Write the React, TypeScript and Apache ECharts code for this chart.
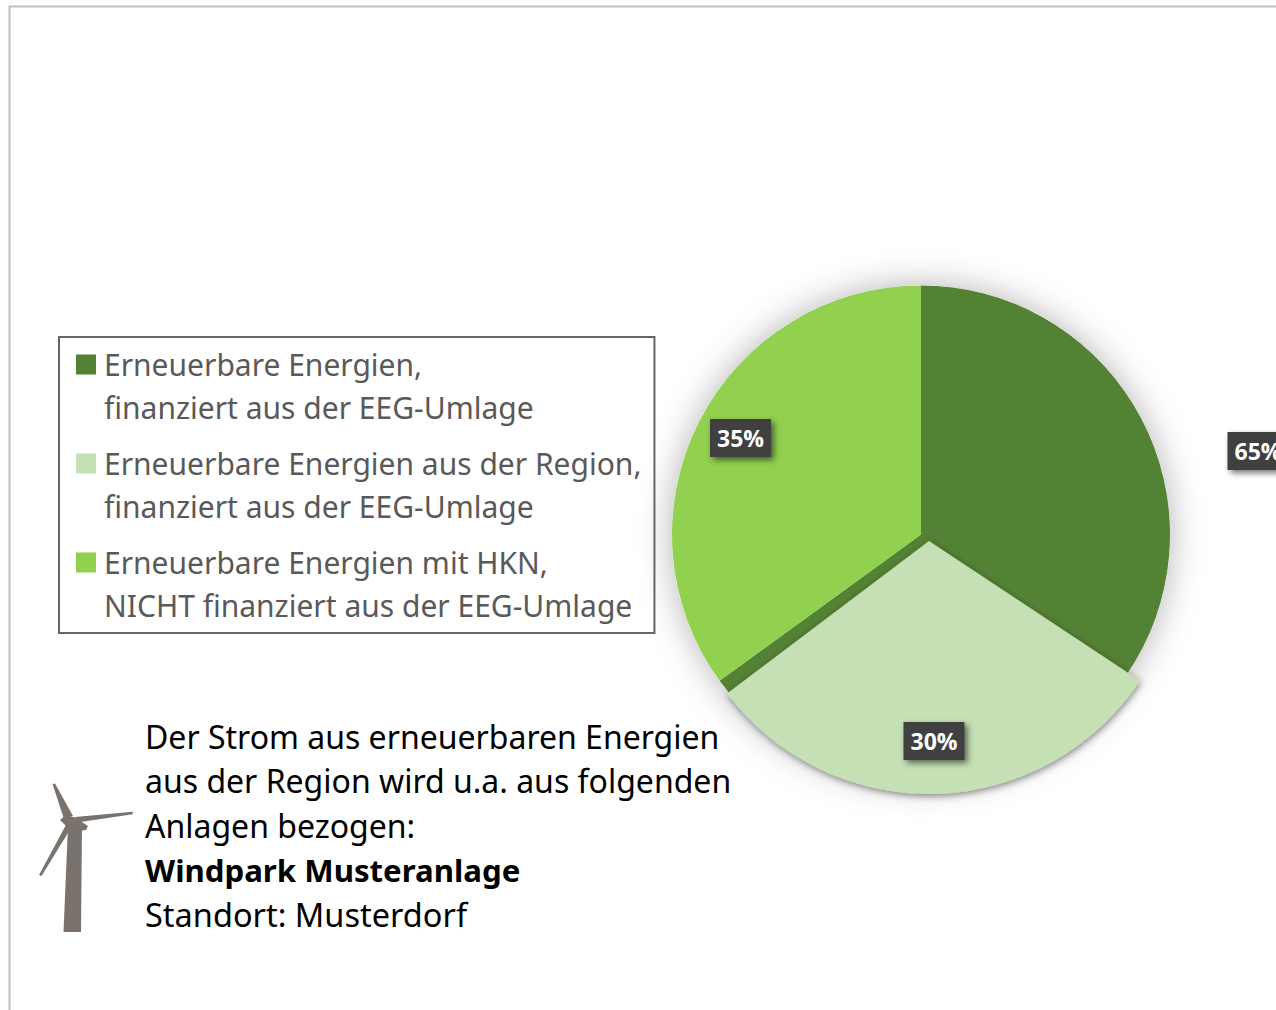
import React, { useEffect, useRef } from "react";
import * as echarts from "echarts";

const legendNames = [
  "Erneuerbare Energien,\nfinanziert aus der EEG-Umlage",
  "Erneuerbare Energien aus der Region,\nfinanziert aus der EEG-Umlage",
  "Erneuerbare Energien mit HKN,\nNICHT finanziert aus der EEG-Umlage",
];
const colors = ["#548235", "#C5E0B4", "#92D050"];
const baseValues = [65, 35];
const regionValue = 30.4;
const regionRestBefore = 35;
const regionRestAfter = 34.6;
const noteLines = [
  "Der Strom aus erneuerbaren Energien",
  "aus der Region wird u.a. aus folgenden",
  "Anlagen bezogen:",
  "Windpark Musteranlage",
  "Standort: Musterdorf",
];
const noteSizes = [32, 32, 32, 31.2, 32.5];
const boldLine = 3;

const FONT = '"Noto Sans", "Open Sans", sans-serif';
const R = 249;
const labelStyle = {
  show: true,
  position: "inside",
  formatter: (p: any) => `${Math.round(p.value)}%`,
  color: "#fff",
  fontFamily: "Open Sans",
  fontWeight: "bold",
  fontSize: 23,
  lineHeight: 26,
  backgroundColor: "#404040",
  padding: [6, 7, 6, 7],
  shadowColor: "rgba(0,0,0,0.55)",
  shadowBlur: 6,
  shadowOffsetX: 3,
  shadowOffsetY: 3,
};
const legendIcon = "path://M0 0L0 0ZM0 11.5H20V31.5H0ZM23 86L23 86Z";

export default function App() {
  const ref = useRef<HTMLDivElement>(null);
  useEffect(() => {
    const chart = echarts.init(ref.current!, null, { renderer: "svg" });
    const noScale = { scale: false };
    chart.setOption({
      animation: false,
      backgroundColor: "#fff",
      legend: {
        orient: "vertical",
        left: 59,
        top: 337,
        data: legendNames,
        selectedMode: false,
        icon: legendIcon,
        itemWidth: 23,
        itemHeight: 86,
        itemGap: 13,
        padding: [6, 13, 6, 17],
        borderColor: "#666",
        borderWidth: 2,
        textStyle: { fontFamily: FONT, fontSize: 30, color: "#595959", lineHeight: 43 },
      },
      graphic: [
        {
          type: "rect",
          silent: true,
          z: -1,
          shape: { x: 9.5, y: 6.5, width: 1400, height: 1200 },
          style: { fill: "none", stroke: "#bfbfbf", lineWidth: 2 },
        },
        ...noteLines.map((t, i) => ({
          type: "text",
          silent: true,
          x: 145,
          y: 736.3 + i * 44.6,
          style: {
            text: t,
            fill: "#000",
            font: `${i === boldLine ? "bold " : ""}${noteSizes[i]}px ${FONT}`,
            verticalAlign: "middle",
          },
        })),
        {
          type: "group",
          silent: true,
          children: [
            [[68, 826], [63.5, 932], [81, 932], [82, 826]],
            [[60, 820], [64, 816.5], [74, 817], [88, 826], [86, 830], [78, 831], [66, 826]],
            [[52.5, 784], [55, 783.5], [73, 816], [64, 819]],
            [[75, 817], [132.7, 811.7], [132.7, 814.3], [77, 822.5]],
            [[66.5, 824], [71, 828], [41.5, 876], [39, 875]],
          ].map((points) => ({
            type: "polygon",
            shape: { points },
            style: { fill: "#7A726C" },
          })),
        },
      ],
      series: [
        {
          type: "pie",
          name: "shadow",
          silent: true,
          center: [921, 534.5],
          radius: [0, R],
          label: { show: false },
          labelLine: { show: false },
          data: [
            {
              value: baseValues[0] + baseValues[1],
              name: "",
              itemStyle: {
                color: "#fff",
                shadowColor: "rgba(0,0,0,0.3)",
                shadowBlur: 34,
              },
            },
          ],
        },
        {
          type: "pie",
          name: "Anteil",
          silent: true,
          center: [921, 534.5],
          radius: [0, R],
          startAngle: 90,
          labelLine: { show: false },
          emphasis: noScale,
          label: labelStyle,
          labelLayout: (p: any) =>
            p.dataIndex === 0 ? { x: 1258, y: 451 } : { x: 740.5, y: 438 },
          data: [
            { value: baseValues[0], name: legendNames[0], itemStyle: { color: colors[0] } },
            { value: baseValues[1], name: legendNames[2], itemStyle: { color: colors[2] } },
          ],
        },
        {
          type: "pie",
          name: "Region",
          silent: true,
          center: [929, 541],
          radius: [0, 253],
          startAngle: 92.5,
          z: 3,
          labelLine: { show: false },
          emphasis: noScale,
          label: { show: false },
          labelLayout: { x: 934, y: 741 },
          data: [
            { value: regionRestBefore, name: "", itemStyle: { color: "transparent" } },
            {
              value: regionValue,
              name: legendNames[1],
              itemStyle: {
                color: colors[1],
                shadowColor: "rgba(0,0,0,0.45)",
                shadowBlur: 7,
                shadowOffsetX: 1,
                shadowOffsetY: 2,
              },
              label: labelStyle,
            },
            { value: regionRestAfter, name: "", itemStyle: { color: "transparent" } },
          ],
        },
      ],
    });
    return () => chart.dispose();
  }, []);
  return (
    <div
      ref={ref}
      style={{ position: "absolute", left: 0, top: 0, width: 1276, height: 1010 }}
    />
  );
}
